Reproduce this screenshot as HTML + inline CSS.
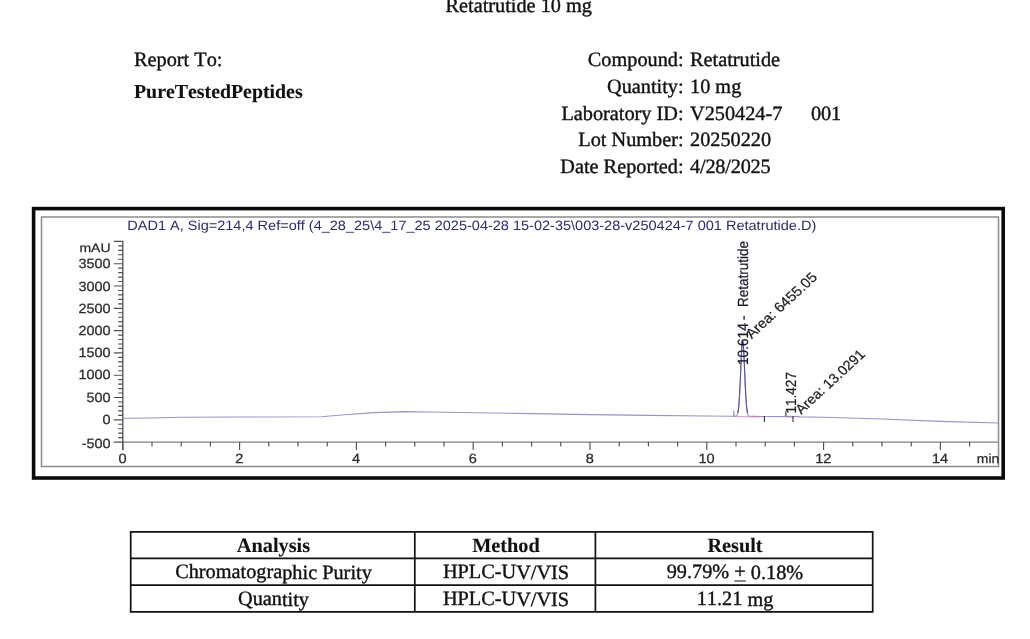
<!DOCTYPE html>
<html>
<head>
<meta charset="utf-8">
<title>Retatrutide 10 mg</title>
<style>
html,body{margin:0;padding:0;background:#fff;}
body{width:1030px;height:639px;position:relative;overflow:hidden;
  font-family:"Liberation Serif","Times New Roman",serif;color:#111;font-size:20.3px;font-kerning:none;text-rendering:geometricPrecision;-webkit-text-stroke:0.38px #111;}
.t{position:absolute;white-space:nowrap;line-height:24px;height:24px;}
.r{text-align:right;}
.b{font-weight:bold;-webkit-text-stroke:0.1px #111;}
.c{text-align:center;}
svg{position:absolute;left:0;top:0;}
svg text{font-family:"Liberation Sans",Arial,sans-serif;}
</style>
</head>
<body>
<div class="t" style="left:445.5px;top:-5.7px;">Retatrutide 10 mg</div>

<div class="t" style="left:134px;top:48px;">Report To:</div>
<div class="t b" style="left:134px;top:79.6px;font-size:19.85px;">PureTestedPeptides</div>

<div class="t r" style="left:483.6px;width:200px;top:48px;">Compound:</div>
<div class="t r" style="left:483.6px;width:200px;top:75px;">Quantity:</div>
<div class="t r" style="left:483.6px;width:200px;top:102px;">Laboratory ID:</div>
<div class="t r" style="left:483.6px;width:200px;top:128px;">Lot Number:</div>
<div class="t r" style="left:483.6px;width:200px;top:155px;">Date Reported:</div>

<div class="t" style="left:690px;top:48px;">Retatrutide</div>
<div class="t" style="left:690px;top:75px;">10 mg</div>
<div class="t" style="left:690px;top:102px;">V250424-7</div>
<div class="t" style="left:811px;top:102px;letter-spacing:-0.2px;">001</div>
<div class="t" style="left:690px;top:128px;">20250220</div>
<div class="t" style="left:690px;top:155px;letter-spacing:-0.2px;">4/28/2025</div>

<svg width="1030" height="639" viewBox="0 0 1030 639">
  <rect x="33.6" y="208.6" width="969.6" height="269.4" fill="none" stroke="#0a0a0a" stroke-width="3.6"/>
  <rect x="41.5" y="217" width="957" height="249.5" fill="none" stroke="#8c8c8c" stroke-width="1.5"/>
  <path d="M122.8 442.10H998.5" fill="none" stroke="#808080" stroke-width="1.3"/>
  <path d="M122.8 240.8V450" fill="none" stroke="#4c4c4c" stroke-width="1.3"/>
  <path d="M113.8 442.10H122.8 M118.2 437.64H122.8 M118.2 433.18H122.8 M118.2 428.72H122.8 M118.2 424.26H122.8 M113.8 419.80H122.8 M118.2 415.34H122.8 M118.2 410.88H122.8 M118.2 406.42H122.8 M118.2 401.96H122.8 M113.8 397.50H122.8 M118.2 393.04H122.8 M118.2 388.58H122.8 M118.2 384.12H122.8 M118.2 379.66H122.8 M113.8 375.20H122.8 M118.2 370.74H122.8 M118.2 366.28H122.8 M118.2 361.82H122.8 M118.2 357.36H122.8 M113.8 352.90H122.8 M118.2 348.44H122.8 M118.2 343.98H122.8 M118.2 339.52H122.8 M118.2 335.06H122.8 M113.8 330.60H122.8 M118.2 326.14H122.8 M118.2 321.68H122.8 M118.2 317.22H122.8 M118.2 312.76H122.8 M113.8 308.30H122.8 M118.2 303.84H122.8 M118.2 299.38H122.8 M118.2 294.92H122.8 M118.2 290.46H122.8 M113.8 286.00H122.8 M118.2 281.54H122.8 M118.2 277.08H122.8 M118.2 272.62H122.8 M118.2 268.16H122.8 M113.8 263.70H122.8 M118.2 259.24H122.8 M118.2 254.78H122.8 M118.2 250.32H122.8 M118.2 245.86H122.8 M113.8 241.40H122.8 M122.80 442.10v8 M152.00 442.10v4.3 M181.20 442.10v4.3 M210.40 442.10v4.3 M239.60 442.10v8 M268.80 442.10v4.3 M298.00 442.10v4.3 M327.20 442.10v4.3 M356.40 442.10v8 M385.60 442.10v4.3 M414.80 442.10v4.3 M444.00 442.10v4.3 M473.20 442.10v8 M502.40 442.10v4.3 M531.60 442.10v4.3 M560.80 442.10v4.3 M590.00 442.10v8 M619.20 442.10v4.3 M648.40 442.10v4.3 M677.60 442.10v4.3 M706.80 442.10v8 M736.00 442.10v4.3 M765.20 442.10v4.3 M794.40 442.10v4.3 M823.60 442.10v8 M852.80 442.10v4.3 M882.00 442.10v4.3 M911.20 442.10v4.3 M940.40 442.10v8 M969.60 442.10v4.3" fill="none" stroke="#505050" stroke-width="1.15"/>
  <g fill="#2a2a2a" stroke="#2a2a2a" stroke-width="0.25" font-size="13.3"><text transform="translate(110.6 447.5) scale(1.085 1)" text-anchor="end">-500</text><text transform="translate(110.6 424.4) scale(1.085 1)" text-anchor="end">0</text><text transform="translate(110.6 401.7) scale(1.085 1)" text-anchor="end">500</text><text transform="translate(110.6 379.4) scale(1.085 1)" text-anchor="end">1000</text><text transform="translate(110.6 357.1) scale(1.085 1)" text-anchor="end">1500</text><text transform="translate(110.6 335.2) scale(1.085 1)" text-anchor="end">2000</text><text transform="translate(110.6 312.9) scale(1.085 1)" text-anchor="end">2500</text><text transform="translate(110.6 290.6) scale(1.085 1)" text-anchor="end">3000</text><text transform="translate(110.6 267.8) scale(1.085 1)" text-anchor="end">3500</text><text transform="translate(110.6 252.4) scale(1.15 1)" text-anchor="end" font-size="12.2">mAU</text><text transform="translate(122.5 463.4) scale(1.085 1)" text-anchor="middle" font-size="13.4">0</text><text transform="translate(239.3 463.4) scale(1.085 1)" text-anchor="middle" font-size="13.4">2</text><text transform="translate(356.1 463.4) scale(1.085 1)" text-anchor="middle" font-size="13.4">4</text><text transform="translate(472.9 463.4) scale(1.085 1)" text-anchor="middle" font-size="13.4">6</text><text transform="translate(589.7 463.4) scale(1.085 1)" text-anchor="middle" font-size="13.4">8</text><text transform="translate(706.5 463.4) scale(1.085 1)" text-anchor="middle" font-size="13.4">10</text><text transform="translate(823.3 463.4) scale(1.085 1)" text-anchor="middle" font-size="13.4">12</text><text transform="translate(940.1 463.4) scale(1.085 1)" text-anchor="middle" font-size="13.4">14</text><text transform="translate(999.4 462.7) scale(1.085 1)" text-anchor="end" font-size="12.9">min</text></g>
  <text x="127.3" y="229.9" font-size="13.6" fill="#2a2a72" textLength="689" lengthAdjust="spacingAndGlyphs">DAD1 A, Sig=214,4 Ref=off (4_28_25\4_17_25 2025-04-28 15-02-35\003-28-v250424-7 001 Retatrutide.D)</text>
  <path d="M122.8 418.2 L152.0 418.0 L181.2 417.3 L239.6 417.0 L321.4 416.8 L344.7 414.8 L373.9 412.6 L403.1 411.6 L432.3 412.0 L473.2 412.8 L531.6 413.6 L590.0 414.6 L648.4 415.4 L706.8 416.0 L733.7 416.2 L733.7 411 L734.2 416.2 L735.66 416.1 L735.91 416.0 L736.16 415.9 L736.41 415.8 L736.66 415.6 L736.91 415.2 L737.16 414.8 L737.41 414.2 L737.66 413.4 L737.91 412.4 L738.16 411.0 L738.41 409.2 L738.66 407.1 L738.91 404.4 L739.16 401.2 L739.41 397.5 L739.66 393.2 L739.91 388.4 L740.16 383.2 L740.41 377.6 L740.66 371.8 L740.91 365.9 L741.16 360.3 L741.41 355.0 L741.66 350.3 L741.91 346.4 L742.16 343.4 L742.41 341.6 L742.66 341.0 L742.91 341.6 L743.16 343.4 L743.41 346.4 L743.66 350.3 L743.91 355.0 L744.16 360.3 L744.41 366.0 L744.66 371.8 L744.91 377.6 L745.16 383.2 L745.41 388.5 L745.66 393.3 L745.91 397.6 L746.16 401.3 L746.41 404.5 L746.66 407.2 L746.91 409.4 L747.16 411.1 L747.41 412.5 L747.66 413.6 L747.91 414.4 L748.16 415.0 L748.41 415.4 L748.66 415.7 L748.91 415.9 L749.16 416.1 L749.41 416.2 L749.66 416.3 L753.5 416.4 L782.7 416.6 L789.7 416.3 L800.2 416.9 L823.6 417.3 L882.0 419.0 L940.4 421.4 L998.8 423.0" fill="none" stroke="#9a94c2" stroke-width="1.1" stroke-linejoin="round"/>
  <path d="M737.66 413.4 L737.91 412.4 L738.16 411.0 L738.41 409.3 L738.66 407.1 L738.91 404.4 L739.16 401.2 L739.41 397.5 L739.66 393.2 L739.91 388.4 L740.16 383.2 L740.41 377.6 L740.66 371.8 L740.91 365.9 L741.16 360.3 L741.41 355.0 L741.66 350.3 L741.91 346.4 L742.16 343.4 L742.41 341.6 L742.66 341.0 L742.91 341.6 L743.16 343.4 L743.41 346.4 L743.66 350.3 L743.91 355.0 L744.16 360.3 L744.41 366.0 L744.66 371.8 L744.91 377.6 L745.16 383.2 L745.41 388.5 L745.66 393.3 L745.91 397.6 L746.16 401.3 L746.41 404.5 L746.66 407.2 L746.91 409.3 L747.16 411.1 L747.41 412.5 L747.66 413.5" fill="none" stroke="#5555a8" stroke-width="1.1"/>
  <path d="M733.7 416.6L762.3 416.9 M786.2 417L794.4 417.1" stroke="#c080b0" stroke-width="0.8" fill="none"/>
  <path d="M764.4 416v6 M785.9 411v5.5 M793 416v6" stroke="#333" stroke-width="1.1" fill="none"/>
  <g fill="#1a1a1a" stroke="#1a1a1a" stroke-width="0.2" font-size="13.3"><text transform="translate(748.0 365.1) scale(1.085 1) rotate(-90)" fill="#17172e" font-size="13.5"><tspan x="0" font-size="13.7">10.614</tspan><tspan x="45">-</tspan><tspan x="58">Retatrutide</tspan></text><text transform="translate(751.8 339.3) scale(1.085 1) rotate(-45)" font-size="13.75">Area: 6455.05</text><text transform="translate(795.5 413.4) scale(1.085 1) rotate(-90)" font-size="13.5">11.427</text><text transform="translate(801.3 414.8) scale(1.085 1) rotate(-45)" font-size="13.45">Area: 13.0291</text></g>
  <path d="M129.85 531.8H873.55 M129.85 558.4H873.55 M129.85 585.2H873.55 M129.85 611.8H873.55 M130.7 531.8V611.8 M414.8 531.8V611.8 M595.4 531.8V611.8 M872.7 531.8V611.8" fill="none" stroke="#111" stroke-width="1.7"/>
</svg>

<div class="t c b" style="left:132px;width:283px;top:533.6px;">Analysis</div>
<div class="t c" style="left:132px;width:283px;top:560px;transform:translateY(0.5px) rotate(0.01deg);">Chromatographic Purity</div>
<div class="t c" style="left:132px;width:283px;top:587px;transform:translateY(0.5px) rotate(0.01deg);">Quantity</div>
<div class="t c b" style="left:416px;width:180px;top:533.6px;">Method</div>
<div class="t c" style="left:416px;width:180px;top:560px;transform:translateY(0.5px) rotate(0.01deg);">HPLC-UV/VIS</div>
<div class="t c" style="left:416px;width:180px;top:587px;transform:translateY(0.5px) rotate(0.01deg);">HPLC-UV/VIS</div>
<div class="t c b" style="left:597px;width:276px;top:533.6px;">Result</div>
<div class="t c" style="left:597px;width:276px;top:560px;transform:translateY(0.5px) rotate(0.01deg);">99.79% <u style="text-decoration-thickness:1px;text-underline-offset:2px;">+</u> 0.18%</div>
<div class="t c" style="left:597px;width:276px;top:587px;transform:translateY(0.5px) rotate(0.01deg);">11.21 mg</div>
</body>
</html>
